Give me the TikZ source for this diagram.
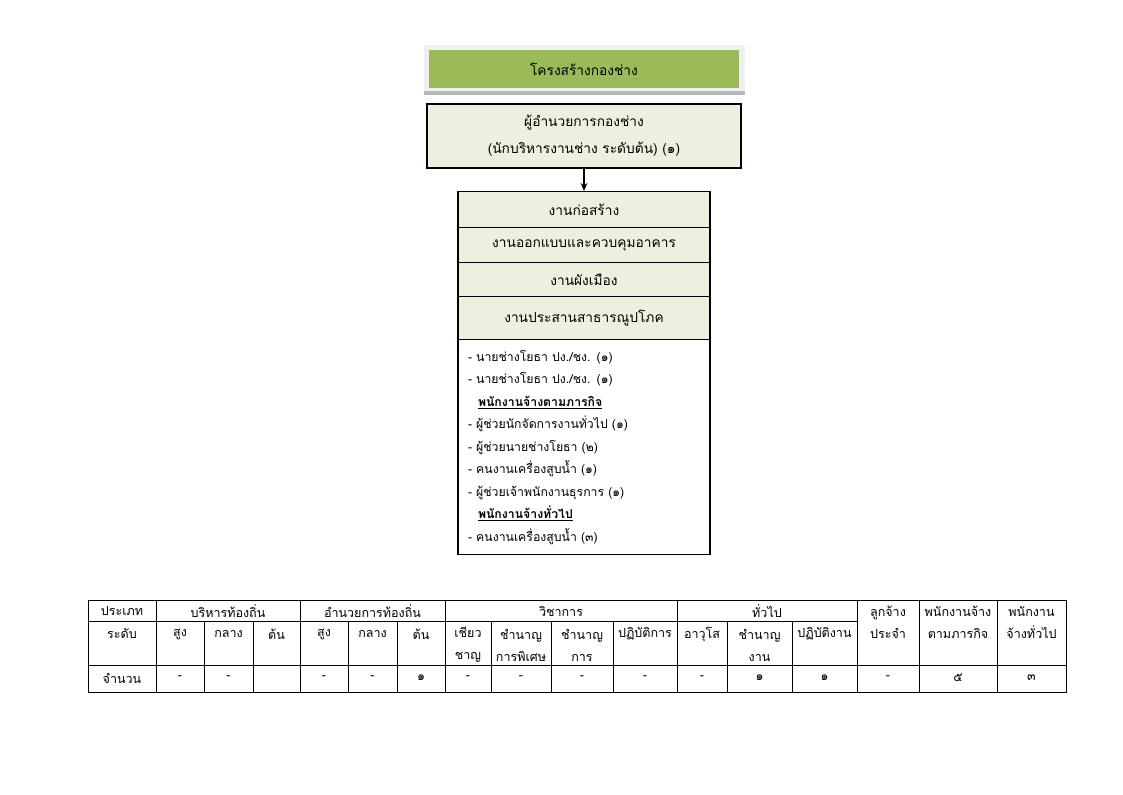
\documentclass[tikz,border=0pt]{standalone}
\usepackage{fontspec}
\setmainfont[Script=Thai]{Loma}
\usetikzlibrary{arrows.meta}
\definecolor{headgreen}{HTML}{9BBB59}
\definecolor{boxgreen}{HTML}{EBF1DE}

\begin{document}
\begin{tikzpicture}[x=0.75pt,y=-0.75pt,
  font=\fontsize{10.3}{12}\selectfont,
  unitbox/.style={draw,line width=1.1pt,fill=boxgreen,minimum width=189pt,inner sep=0pt,anchor=north},
  cell/.style={inner sep=0pt,align=center,font=\fontsize{9.4}{16.5}\selectfont},
  grid/.style={line width=0.6pt}]
  \useasboundingbox (0,0) rectangle (1123,794);
  % title
  \fill[gray!12] (424,45) rectangle (745,95);
  \fill[gray!55] (424,91) rectangle (745,95);
  \node[fill=headgreen,minimum width=232.5pt,minimum height=28.5pt,inner sep=0pt] (title) at (584,69) {โครงสร้างกองช่าง};
  % director
  \node[draw,line width=1.1pt,fill=boxgreen,minimum width=235.5pt,minimum height=48pt,inner sep=0pt,align=center,
        font=\fontsize{10.3}{20}\selectfont] (boss) at (584,136)
        {ผู้อำนวยการกองช่าง\\(นักบริหารงานช่าง ระดับต้น) (๑)};
  % units
  \node[unitbox,minimum height=27pt] (u1) at (584,191) {งานก่อสร้าง};
  \node[unitbox,minimum height=26.25pt] (u2) at (584,227) {งานออกแบบและควบคุมอาคาร};
  \node[unitbox,minimum height=25.5pt] (u3) at (584,262) {งานผังเมือง};
  \node[unitbox,minimum height=32.25pt] (u4) at (584,296) {งานประสานสาธารณูปโภค};
  \node[unitbox,fill=white,minimum height=161.25pt,text width=174pt,inner xsep=7.5pt,align=left,
        font=\fontsize{9.2}{16.9}\selectfont] (staff) at (584,339)
        {- นายช่างโยธา ปง./ชง. (๑)\\
         - นายช่างโยธา ปง./ชง. (๑)\\
         \hspace*{7.5pt}\underline{\textbf{พนักงานจ้างตามภารกิจ}}\\
         - ผู้ช่วยนักจัดการงานทั่วไป (๑)\\
         - ผู้ช่วยนายช่างโยธา (๒)\\
         - คนงานเครื่องสูบน้ำ (๑)\\
         - ผู้ช่วยเจ้าพนักงานธุรการ (๑)\\
         \hspace*{7.5pt}\underline{\textbf{พนักงานจ้างทั่วไป}}\\
         - คนงานเครื่องสูบน้ำ (๓)};
  \draw[line width=1pt,-{Stealth[length=6pt,width=5pt]}] (boss) -- (u1);

  % table of posts
  \draw[grid] (88,600) rectangle (1066,692);
  \draw[grid] (88,621) -- (857,621);
  \draw[grid] (88,665) -- (1066,665);
  \foreach \x in {156,300,445,677,857,919,997}
    \draw[grid] (\x,600) -- (\x,692);
  \foreach \x in {204,253,348,397,491,551,613,727,792}
    \draw[grid] (\x,621) -- (\x,692);
  % header row
  \foreach \x/\t [count=\i] in {122/ประเภท,228/บริหารท้องถิ่น,372.5/อำนวยการท้องถิ่น,561/วิชาการ,767/ทั่วไป}
    \node[cell] (type\i) at (\x,611) {\t};
  \foreach \x/\t [count=\i] in {888/ลูกจ้าง\\ประจำ,958/พนักงานจ้าง\\ตามภารกิจ,1031.5/พนักงาน\\จ้างทั่วไป}
    \node[cell] (emp\i) at (\x,622.5) {\t};
  % level row
  \foreach \x/\t [count=\i] in {122/ระดับ,180/สูง,228.5/กลาง,276.5/ต้น,324/สูง,372.5/กลาง,421/ต้น,645/ปฏิบัติการ,702/อาวุโส,824.5/ปฏิบัติงาน}
    \node[cell] (lvl\i) at (\x,634) {\t};
  \foreach \x/\t [count=\i] in {468/เชียว\\ชาญ,521/ชำนาญ\\การพิเศษ,582/ชำนาญ\\การ,759.5/ชำนาญ\\งาน}
    \node[cell] (lvb\i) at (\x,645) {\t};
  % count row
  \foreach \x/\t [count=\i] in {122/จำนวน,180/-,228.5/-,324/-,372.5/-,421/๑,468/-,521/-,582/-,645/-,702/-,759.5/๑,824.5/๑,888/-,958/๕,1031.5/๓}
    \node[cell] (num\i) at (\x,678) {\t};
\end{tikzpicture}
\end{document}
